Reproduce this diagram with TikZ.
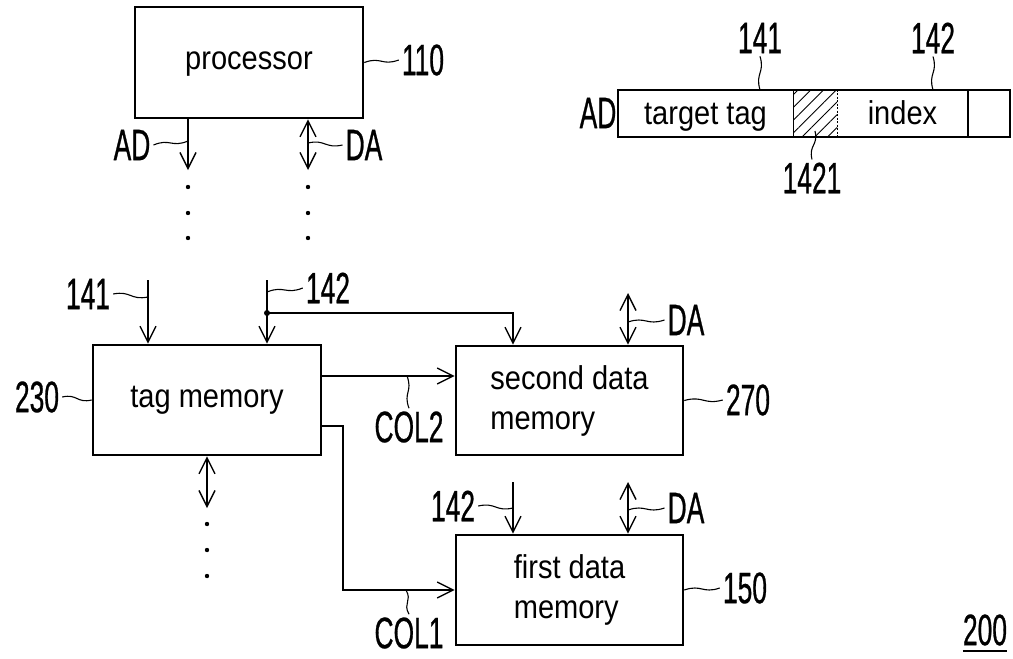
\documentclass[tikz,border=0pt]{standalone}
\usepackage{fontspec}
\setmainfont{Liberation Sans}
\newfontfamily\labfont[FakeStretch=0.6,FakeBold=0.6]{Liberation Sans}
\newfontfamily\boxfont[FakeStretch=0.88]{Liberation Sans}
\usetikzlibrary{arrows.meta,patterns.meta,calc}
\begin{document}
\begin{tikzpicture}[x=1pt,y=-1pt,
  blk/.style={draw,line width=2.6pt,inner sep=0pt,font=\boxfont\fontsize{33}{40}\selectfont,align=left},
  lab/.style={font=\labfont\fontsize{44}{44}\selectfont,inner sep=3pt},
  arr/.style={line width=1.4pt,-{Straight Barb[length=16pt,width=16pt,line width=1.4pt]}},
  darr/.style={line width=1.4pt,{Straight Barb[length=16pt,width=16pt,line width=1.4pt]}-{Straight Barb[length=16pt,width=16pt,line width=1.4pt]}},
  sq/.style={line width=1.1pt,to path={.. controls ($(\tikztostart)!0.5!(\tikztotarget)!5pt!90:(\tikztotarget)$) and ($(\tikztostart)!0.5!(\tikztotarget)!5pt!-90:(\tikztotarget)$) .. (\tikztotarget)}},
  dot/.style={circle,fill,inner sep=0pt,minimum size=4.4pt},
  fld/.style={inner sep=0pt,minimum height=47pt,text height=26pt,text depth=5pt,font=\boxfont\fontsize{33}{40}\selectfont}
]
\useasboundingbox (0,0) rectangle (1013,659);

% processor
\node[blk,minimum width=228pt,minimum height=111pt,text height=23pt,text depth=10pt] (proc) at (249,62.5) {processor};
\node[lab] (l110) at (423,60) {110};
\draw[sq] (proc.east) to (l110.west);
\coordinate (adtip) at (188,170);
\coordinate (datip) at (308,170);
\draw[arr] (proc.south -| adtip) -- (adtip);
\draw[darr] (proc.south -| datip) -- (datip);
\node[lab] (lAD) at (132,145) {AD};
\node[lab] (lDA) at (364,145) {DA};
\coordinate (adsq) at (188,141);
\coordinate (dasq) at (308,143);
\draw[sq] (lAD.east) to (adsq);
\draw[sq] (dasq) to (lDA.west);
\foreach \y [count=\i] in {187,213,238} {
  \node[dot] (pa\i) at (188,\y) {};
  \node[dot] (pd\i) at (308,\y) {};
}

% address bar
\node[lab] (bAD) at (598,113) {AD};
\node[fld,minimum width=175pt] (tt) at (705.5,113.5) {target tag};
\node[fld,minimum width=44pt,pattern={Lines[angle=45,distance=9pt,line width=0.9pt]}] (ht) at (815,113.5) {};
\node[fld,minimum width=131pt] (idx) at (902.5,113.5) {index};
\node[fld,minimum width=42pt] (lst) at (989,113.5) {};
\draw[line width=2.4pt] (tt.north west) rectangle (lst.south east);
\draw[line width=1.4pt] (tt.north east) -- (tt.south east);
\draw[line width=1pt,dash pattern=on 2pt off 1.5pt] (ht.north east) -- (ht.south east);
\draw[line width=2pt] (idx.north east) -- (idx.south east);
\node[lab] (b141) at (760,38) {141};
\node[lab] (b142) at (933,38) {142};
\node[lab] (b1421) at (812,178) {1421};
\draw[sq] (b141.south) to (tt.north -| b141);
\draw[sq] (b142.south) to (idx.north -| b142);
\coordinate (hsq) at (815,131);
\draw[sq] (hsq) to (b1421.north);

% tag memory
\node[blk,minimum width=228pt,minimum height=110pt,text height=24pt,text depth=9pt] (tag) at (207,400) {tag memory};
\node[lab] (l230) at (37,397) {230};
\draw[sq] (l230.east) to (tag.west);
\coordinate (a141) at (148,280);
\coordinate (a142) at (267,280);
\draw[arr] (a141) -- (a141 |- tag.north);
\draw[arr] (a142) -- (a142 |- tag.north);
\node[lab] (t141) at (88,294) {141};
\node[lab] (t142) at (328,288) {142};
\coordinate (q141) at (148,297);
\coordinate (q142) at (267,292);
\draw[sq] (t141.east) to (q141);
\draw[sq] (q142) to (t142.west);
\node[circle,fill,inner sep=0pt,minimum size=6pt] (junc) at (267,313) {};
\coordinate (tb) at (207,508);
\draw[darr] (tag.south) -- (tb);
\foreach \y [count=\i] in {524,550,576} {
  \node[dot] (td\i) at (207,\y) {};
}

% second data memory
\node[blk,minimum width=227pt,minimum height=109pt] (sdm) at (569.5,400.5) {second data\\memory};
\node[lab] (l270) at (748,400) {270};
\draw[sq] (sdm.east) to (l270.west);
\coordinate (s142) at (513,313);
\draw[arr] (junc.center) -- (s142) -- (s142 |- sdm.north);
\coordinate (c2) at (0,376);
\draw[arr] (tag.east |- c2) -- (sdm.west |- c2);
\node[lab] (lCOL2) at (409,427) {COL2};
\coordinate (q2) at (407,376);
\draw[sq] (q2) to (lCOL2.north);
\coordinate (sda) at (628,293);
\draw[darr] (sda) -- (sda |- sdm.north);
\node[lab] (sDA) at (686,320) {DA};
\coordinate (qsda) at (628,322);
\draw[sq] (qsda) to (sDA.west);

% first data memory
\node[blk,minimum width=227pt,minimum height=110pt] (fdm) at (569.5,590) {first data\\memory};
\node[lab] (l150) at (745,588) {150};
\draw[sq] (fdm.east) to (l150.west);
\coordinate (c1a) at (0,426);
\coordinate (c1b) at (343,590);
\draw[arr] (tag.east |- c1a) -| (c1b) -- (fdm.west |- c1b);
\node[lab] (lCOL1) at (409,633) {COL1};
\coordinate (q1) at (406,590);
\draw[sq] (q1) to (lCOL1.north);
\coordinate (f142) at (513,482);
\draw[arr] (f142) -- (f142 |- fdm.north);
\node[lab] (lf142) at (453,506) {142};
\coordinate (qf142) at (513,508);
\draw[sq] (lf142.east) to (qf142);
\coordinate (fda) at (628,482);
\draw[darr] (fda) -- (fda |- fdm.north);
\node[lab] (fDA) at (686,508) {DA};
\coordinate (qfda) at (628,510);
\draw[sq] (qfda) to (fDA.west);

% figure number
\node[lab,inner sep=0pt] (l200) at (985,630) {200};
\draw[line width=2pt] ([yshift=-5pt]l200.south west) -- ([yshift=-5pt]l200.south east);
\end{tikzpicture}
\end{document}
